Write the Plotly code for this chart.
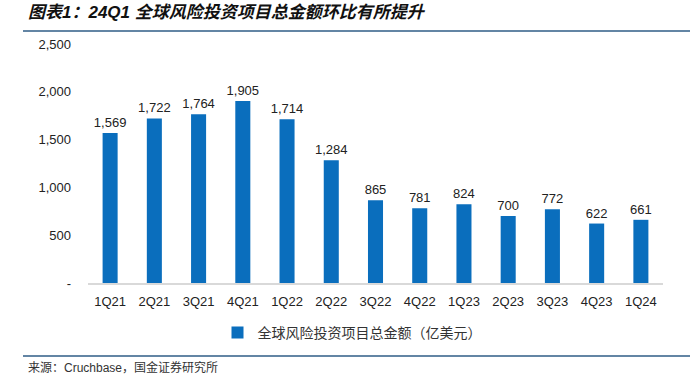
import plotly.graph_objects as go

categories = ["1Q21", "2Q21", "3Q21", "4Q21", "1Q22", "2Q22", "3Q22", "4Q22",
              "1Q23", "2Q23", "3Q23", "4Q23", "1Q24"]
values = [1569, 1722, 1764, 1905, 1714, 1284, 865, 781, 824, 700, 772, 622, 661]
tick_vals = [0, 500, 1000, 1500, 2000, 2500]
tick_text = ["-", "500", "1,000", "1,500", "2,000", "2,500"]
series_name = "全球风险投资项目总金额（亿美元）"
title_text = "图表1：24Q1 全球风险投资项目总金额环比有所提升"
source_text = "来源：Cruchbase，国金证券研究所"

FONT = "Liberation Sans, Arial, Noto Sans CJK SC, sans-serif"
BAR = "#0A6EBD"

W, H = 692, 375
ML, MR, MT, MB = 88, 29, 44, 92
PW, PH = W - ML - MR, H - MT - MB


def px(x):
    return (x - ML) / PW


def py(y):
    return (H - MB - y) / PH


fig = go.Figure()
fig.add_trace(go.Bar(
    x=categories, y=values, name=series_name,
    marker=dict(color=BAR, line=dict(width=0)),
    text=[f"{v:,}" for v in values], textposition="outside",
    constraintext="none",
    textfont=dict(size=13, color="#222222", family=FONT),
    cliponaxis=False,
))

fig.update_layout(
    width=W, height=H,
    margin=dict(l=ML, r=MR, t=MT, b=MB),
    paper_bgcolor="white", plot_bgcolor="white",
    bargap=0.66,
    font=dict(family=FONT, size=13, color="#222222"),
    showlegend=True,
    legend=dict(orientation="h", x=px(352), xanchor="center", y=py(317), yanchor="top",
                font=dict(size=14, family="Noto Sans CJK SC, sans-serif", color="#333333"),
                itemwidth=30),
    xaxis=dict(showgrid=False, showline=True, linecolor="#D9D9D9", linewidth=1.5,
               ticks="", ticklabelstandoff=6, tickfont=dict(size=13, color="#222222")),
    yaxis=dict(range=[0, 2500], tickvals=tick_vals, ticktext=tick_text,
               showgrid=False, zeroline=False, showline=False, ticks="",
               ticklabelstandoff=16, tickfont=dict(size=13, color="#222222")),
    shapes=[
        dict(type="line", xref="paper", yref="paper", x0=px(23), x1=px(690),
             y0=py(31), y1=py(31), line=dict(color="#2F5D86", width=1.5)),
        dict(type="line", xref="paper", yref="paper", x0=px(23), x1=px(690),
             y0=py(356), y1=py(356), line=dict(color="#2F5D86", width=1.5)),
    ],
    annotations=[
        dict(text="<b><i>" + title_text + "</i></b>", xref="paper", yref="paper",
             x=px(26), y=py(12), xanchor="left", yanchor="middle",
             showarrow=False, font=dict(size=17, color="#111111",
                                         family="Liberation Sans, Noto Sans CJK SC, sans-serif")),
        dict(text=source_text, xref="paper", yref="paper",
             x=px(26), y=py(367), xanchor="left", yanchor="middle",
             showarrow=False, font=dict(size=12, color="#333333",
                                         family="Liberation Sans, Noto Sans CJK SC, sans-serif")),
    ],
)

fig.write_html("out.html", config={"displayModeBar": False},
               post_script="document.body.style.margin='0';document.body.style.overflow='hidden';")
